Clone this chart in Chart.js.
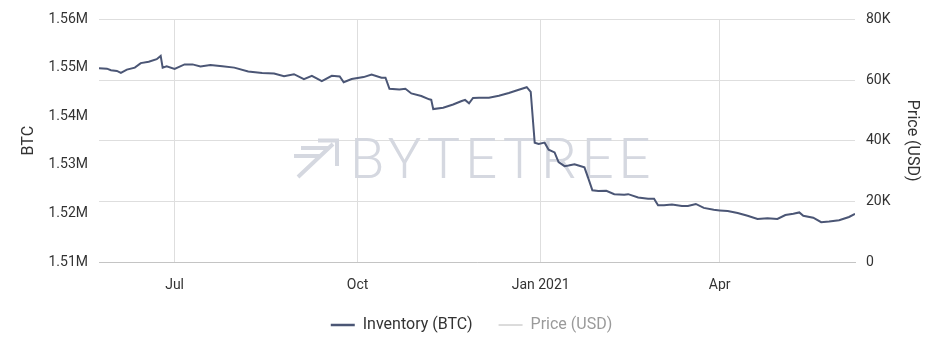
<!DOCTYPE html>
<html>
<head>
<meta charset="utf-8">
<script src="https://cdn.jsdelivr.net/npm/chart.js@4.4.1/dist/chart.umd.min.js"></script>
<style>
  html, body { margin: 0; padding: 0; background: #ffffff; }
  #wrap { width: 943px; height: 360px; }
</style>
</head>
<body>
<div id="wrap"><canvas id="c" width="943" height="360"></canvas></div>
<script>
// ---------- data ----------
const START_DATE = '2020-05-24';
const END_DATE = '2021-06-08';

const dates = [
  '2020-05-24','2020-05-28','2020-05-30','2020-06-02','2020-06-04','2020-06-07','2020-06-11','2020-06-14',
  '2020-06-18','2020-06-22','2020-06-24','2020-06-25','2020-06-27','2020-07-01','2020-07-06','2020-07-10',
  '2020-07-14','2020-07-19','2020-07-25','2020-07-31','2020-08-07','2020-08-14','2020-08-20','2020-08-25',
  '2020-08-30','2020-09-04','2020-09-08','2020-09-13','2020-09-18','2020-09-22','2020-09-24','2020-09-28',
  '2020-10-04','2020-10-08','2020-10-13','2020-10-15','2020-10-17','2020-10-22','2020-10-25','2020-10-28',
  '2020-11-02','2020-11-06','2020-11-07','2020-11-08','2020-11-13','2020-11-18','2020-11-22','2020-11-24',
  '2020-11-26','2020-11-28','2020-12-01','2020-12-06','2020-12-11','2020-12-16','2020-12-21','2020-12-25',
  '2020-12-27','2020-12-29','2020-12-31','2021-01-03','2021-01-05','2021-01-08','2021-01-10','2021-01-13',
  '2021-01-15','2021-01-18','2021-01-20','2021-01-23','2021-01-25','2021-01-27','2021-01-30','2021-02-03',
  '2021-02-07','2021-02-12','2021-02-14','2021-02-19','2021-02-24','2021-02-27','2021-03-01','2021-03-04',
  '2021-03-08','2021-03-13','2021-03-16','2021-03-20','2021-03-24','2021-03-29','2021-04-01','2021-04-05',
  '2021-04-10','2021-04-15','2021-04-20','2021-04-25','2021-04-30','2021-05-04','2021-05-08','2021-05-11',
  '2021-05-13','2021-05-18','2021-05-22','2021-05-26','2021-05-31','2021-06-05','2021-06-08'
];

const inventoryBTC = [
  1549920,1549850,1549520,1549380,1548970,1549660,1550060,1550990,
  1551270,1551800,1552480,1550060,1550320,1549780,1550730,1550730,
  1550320,1550590,1550320,1550060,1549260,1548970,1548850,1548310,
  1548710,1547700,1548370,1547300,1548370,1548250,1547040,1547700,
  1548110,1548650,1547970,1547970,1545690,1545550,1545690,1544740,
  1544220,1543530,1543410,1541510,1541800,1542460,1543130,1543410,
  1542720,1543810,1543870,1543870,1544280,1544820,1545490,1546030,
  1545080,1534600,1534340,1534600,1533130,1532580,1530570,1529760,
  1529900,1530160,1529900,1529500,1527200,1524780,1524620,1524660,
  1523980,1523850,1523980,1523310,1523050,1523050,1521700,1521700,
  1521840,1521560,1521560,1521960,1521150,1520750,1520630,1520490,
  1520080,1519540,1518870,1519020,1518870,1519680,1519940,1520220,
  1519540,1519140,1518210,1518330,1518610,1519280,1519940
];

const xTickDates = ['2020-07-01','2020-10-01','2021-01-01','2021-04-01'];
const xTickLabels = ['Jul','Oct','Jan 2021','Apr'];

const leftTicks = [1510000,1520000,1530000,1540000,1550000,1560000];
const rightTicks = [0,20000,40000,60000,80000];

const seriesNames = ['Inventory (BTC)','Price (USD)'];

// ---------- helpers ----------
function dayOf(s) { return (Date.parse(s) - Date.parse(START_DATE)) / 864e5; }

const LINE_COLOR = '#4b5675';
const GRID_COLOR = '#dedede';
const TEXT_COLOR = '#333333';
const WM_COLOR = '#d5d8e0';

Chart.defaults.font.family = 'Roboto, "Liberation Sans", Arial, sans-serif';
Chart.defaults.font.size = 14;
Chart.defaults.color = TEXT_COLOR;

const watermark = {
  id: 'watermark',
  beforeDatasetsDraw(chart) {
    const ctx = chart.ctx;
    ctx.save();
    // logo
    ctx.strokeStyle = WM_COLOR;
    ctx.lineWidth = 4;
    ctx.lineCap = 'butt';
    ctx.beginPath();
    ctx.moveTo(318, 140.5); ctx.lineTo(339, 140.5);
    ctx.moveTo(337, 139); ctx.lineTo(337, 166);
    ctx.moveTo(301, 148); ctx.lineTo(329, 148);
    ctx.moveTo(294, 156); ctx.lineTo(321, 156);
    ctx.moveTo(298, 177); ctx.lineTo(333, 144);
    ctx.stroke();
    // text
    ctx.fillStyle = WM_COLOR;
    ctx.font = '300 56px Roboto, "Liberation Sans", sans-serif';
    ctx.textBaseline = 'alphabetic';
    ctx.textAlign = 'left';
    try { ctx.letterSpacing = '5px'; } catch (e) {}
    ctx.fillText('BYTETREE', 350, 178);
    ctx.restore();
  }
};

new Chart(document.getElementById('c'), {
  type: 'line',
  data: {
    datasets: [
      {
        label: seriesNames[0],
        data: dates.map((d, i) => ({ x: dayOf(d), y: inventoryBTC[i] })),
        yAxisID: 'y',
        borderColor: LINE_COLOR,
        backgroundColor: LINE_COLOR,
        borderWidth: 2,
        pointRadius: 0,
        tension: 0,
        fill: false
      },
      {
        label: seriesNames[1],
        data: [],
        yAxisID: 'y2',
        borderColor: '#b0b0b0',
        borderWidth: 1,
        pointRadius: 0,
        hidden: true
      }
    ]
  },
  options: {
    responsive: false,
    animation: false,
    devicePixelRatio: 1,
    layout: { padding: { top: 14, left: 0, right: 0, bottom: 17 } },
    plugins: {
      tooltip: { enabled: false },
      legend: {
        position: 'bottom',
        labels: {
          usePointStyle: true,
          pointStyleWidth: 24,
          padding: 26,
          font: { size: 16 },
          generateLabels: () => [
            { text: seriesNames[0], strokeStyle: LINE_COLOR, fillStyle: LINE_COLOR, lineWidth: 2.5,
              pointStyle: 'line', fontColor: TEXT_COLOR, hidden: false, datasetIndex: 0 },
            { text: seriesNames[1], strokeStyle: '#b8b8b8', fillStyle: '#b8b8b8', lineWidth: 1,
              pointStyle: 'line', fontColor: '#9a9a9a', hidden: false, datasetIndex: 1 }
          ]
        }
      }
    },
    scales: {
      x: {
        type: 'linear',
        min: dayOf(START_DATE),
        max: dayOf(END_DATE),
        afterBuildTicks: (s) => { s.ticks = xTickDates.map(d => ({ value: dayOf(d) })); },
        afterFit: (s) => { s.height = 29; },
        ticks: {
          autoSkip: false,
          maxRotation: 0,
          padding: 15,
          color: TEXT_COLOR,
          callback: (v, i) => xTickLabels[i]
        },
        grid: { color: GRID_COLOR, drawTicks: false },
        border: { color: '#c4c4c4' }
      },
      y: {
        position: 'left',
        min: leftTicks[0],
        max: leftTicks[leftTicks.length - 1],
        afterBuildTicks: (s) => { s.ticks = leftTicks.map(v => ({ value: v })); },
        afterFit: (s) => { s.width = 99; },
        ticks: {
          padding: 11,
          color: TEXT_COLOR,
          callback: (v) => (v / 1e6).toFixed(2) + 'M'
        },
        grid: { display: false, drawTicks: false },
        border: { display: false },
        title: { display: true, text: 'BTC', font: { size: 16 }, color: TEXT_COLOR, padding: { top: 19, bottom: 0 } }
      },
      y2: {
        position: 'right',
        display: true,
        min: rightTicks[0],
        max: rightTicks[rightTicks.length - 1],
        afterBuildTicks: (s) => { s.ticks = rightTicks.map(v => ({ value: v })); },
        afterFit: (s) => { s.width = 88; },
        ticks: {
          padding: 11,
          color: TEXT_COLOR,
          callback: (v) => v === 0 ? '0' : (v / 1000) + 'K'
        },
        grid: { color: GRID_COLOR, drawTicks: false },
        border: { display: false },
        title: { display: true, text: 'Price (USD)', font: { size: 16 }, color: TEXT_COLOR, padding: { top: 21, bottom: 0 } }
      }
    }
  },
  plugins: [watermark]
});
</script>
</body>
</html>
